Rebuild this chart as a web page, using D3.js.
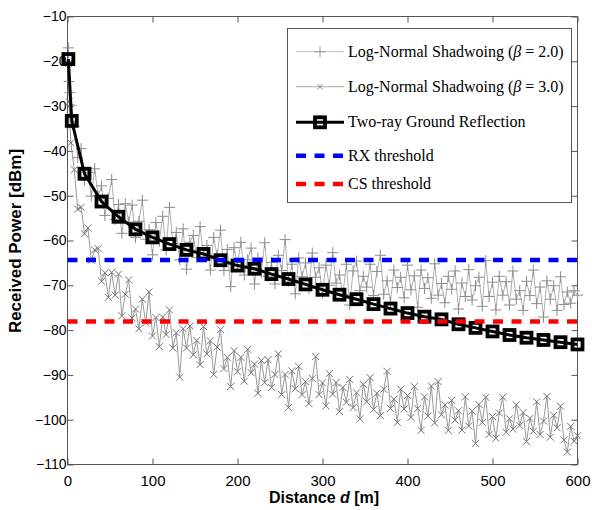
<!DOCTYPE html>
<html>
<head>
<meta charset="utf-8">
<script src="https://cdn.jsdelivr.net/npm/d3@7"></script>
<style>
  body { margin: 0; background: #fff; }
  svg text { font-family: "Liberation Sans", Arial, sans-serif; }
  .tick text { font-size: 14px; fill: #000; }
  .legend text { font-family: "Liberation Serif", "Times New Roman", serif; font-size: 16px; fill: #000; }
</style>
</head>
<body>
<svg id="chart" width="594" height="510"></svg>
<script>
// distances of the shadowing samples [m]
const distance = [1,2,3,4,8,12,16,20,24,28,32,36,40,44,48,52,56,60,64,68,72,76,80,84,88,92,96,100,
  104,108,112,116,120,124,128,132,136,140,144,148,152,156,160,164,168,172,176,180,184,188,192,196,200,
  204,208,212,216,220,224,228,232,236,240,244,248,252,256,260,264,268,272,276,280,284,288,292,296,300,
  304,308,312,316,320,324,328,332,336,340,344,348,352,356,360,364,368,372,376,380,384,388,392,396,400,
  404,408,412,416,420,424,428,432,436,440,444,448,452,456,460,464,468,472,476,480,484,488,492,496,500,
  504,508,512,516,520,524,528,532,536,540,544,548,552,556,560,564,568,572,576,580,584,588,592,596,600];

// Log-Normal Shadowing, beta = 2.0 [dBm]
const shadow2 = [-17.0,-24.5,-27.0,-29.8,-34.5,-41.5,-39.5,-46.5,-44.8,-50.1,
  -44.0,-50.0,-47.8,-54.4,-50.6,-46.4,-55.3,-52.0,-58.4,-51.8,
  -55.9,-52.1,-59.3,-55.7,-51.0,-59.7,-57.6,-63.2,-56.0,-60.2,
  -54.6,-62.1,-52.6,-60.7,-58.2,-64.3,-57.4,-66.4,-60.4,-58.9,
  -63.8,-56.9,-63.6,-61.1,-66.6,-59.3,-63.4,-57.7,-66.7,-62.0,
  -70.3,-61.6,-65.5,-60.4,-67.7,-64.3,-61.7,-69.7,-63.9,-67.2,
  -60.5,-68.0,-64.9,-69.7,-63.3,-66.7,-59.8,-69.1,-65.3,-71.9,
  -63.9,-68.1,-65.0,-70.7,-62.8,-68.2,-66.1,-71.8,-65.5,-70.0,
  -62.7,-69.5,-67.7,-72.1,-65.3,-74.4,-66.8,-64.6,-71.2,-68.0,
  -70.4,-65.3,-72.3,-66.9,-63.3,-72.0,-69.0,-73.8,-66.6,-70.5,
  -68.2,-72.8,-65.5,-71.0,-67.9,-74.9,-66.6,-70.7,-68.3,-72.9,
  -65.2,-72.2,-69.6,-73.9,-68.0,-70.9,-66.8,-75.3,-69.5,-72.5,
  -66.5,-73.3,-70.1,-68.2,-74.7,-64.5,-72.5,-69.3,-75.5,-68.0,
  -72.2,-69.2,-74.4,-66.8,-73.1,-71.2,-75.6,-69.1,-72.3,-66.6,
  -74.1,-70.4,-77.1,-69.0,-73.1,-70.1,-75.6,-68.1,-74.3,-71.5,
  -74.0,-71.2,-72.2];

// Log-Normal Shadowing, beta = 3.0 [dBm]
const shadow3 = [-20.5,-29.0,-34.5,-38.2,-44.2,-53.0,-52.6,-58.5,-57.2,-64.4,
  -62.1,-61.8,-69.1,-67.2,-72.7,-67.1,-72.2,-67.5,-76.8,-72.0,
  -68.8,-77.3,-75.3,-79.7,-73.1,-78.4,-71.5,-81.3,-77.2,-83.7,
  -77.1,-81.0,-75.5,-84.0,-80.6,-90.5,-79.7,-84.0,-79.1,-85.5,
  -82.3,-87.7,-79.2,-85.3,-82.4,-89.9,-83.8,-79.9,-88.6,-86.1,
  -92.6,-84.6,-89.3,-86.1,-91.4,-84.3,-89.5,-87.6,-94.1,-86.8,
  -91.7,-86.6,-92.8,-89.9,-85.3,-94.4,-89.9,-97.3,-89.1,-93.1,
  -88.1,-94.4,-91.5,-96.4,-90.8,-85.9,-94.4,-91.8,-96.9,-89.7,
  -94.3,-91.7,-98.2,-92.8,-96.1,-91.0,-97.3,-94.0,-99.8,-92.1,
  -96.0,-90.6,-97.7,-94.1,-99.1,-93.2,-89.2,-97.5,-95.4,-100.6,
  -93.2,-97.6,-94.6,-99.5,-92.6,-97.5,-102.4,-94.9,-99.2,-92.5,
  -100.7,-91.5,-98.9,-96.7,-102.4,-95.7,-100.1,-98.0,-102.3,-94.9,
  -101.4,-98.1,-105.3,-96.6,-100.6,-95.0,-103.3,-99.3,-104.1,-98.5,
  -95.0,-102.8,-99.8,-102.1,-96.7,-101.3,-98.4,-104.9,-99.7,-102.6,
  -96.0,-103.3,-100.3,-94.8,-103.9,-99.0,-101.8,-97.0,-104.5,-107.2,
  -101.5,-104.8,-103.6];

// Two-ray Ground Reflection
const rayDist = [1,5,20,40,60,80,100,120,140,160,180,200,220,240,260,280,300,
  320,340,360,380,400,420,440,460,480,500,520,540,560,580,600];
const twoRay = [-19.5,-33.3,-45.1,-51.3,-54.7,-57.5,-59.3,-60.8,-62.1,-63.0,-64.4,-65.6,
  -66.3,-67.5,-68.6,-69.8,-71.0,-72.1,-73.1,-74.2,-75.2,-76.2,-77.0,-77.6,-78.7,
  -79.5,-80.3,-81.1,-81.7,-82.2,-82.7,-83.2];

const rxThreshold = -64.37;
const csThreshold = -78.07;

const xTicks = [0,100,200,300,400,500,600];
const yTicks = [-110,-100,-90,-80,-70,-60,-50,-40,-30,-20,-10];

const svg = d3.select('#chart');

const pLeft = 67.5, pRight = 577.5, pTop = 16.5, pBottom = 464.5;
const axisColor = '#555';

const x = d3.scaleLinear().domain([0, 600]).range([pLeft, pRight]);
const y = d3.scaleLinear().domain([-110, -10]).range([pBottom, pTop]);

const fmt = d => d < 0 ? '\u2212' + Math.abs(d) : String(d);

// axes, ticks pointing inward on all four sides
const gx = svg.append('g')
  .attr('transform', `translate(0,${pBottom})`)
  .call(d3.axisBottom(x).tickValues(xTicks).tickFormat(fmt)
    .tickSizeInner(-6).tickSizeOuter(0).tickPadding(11));
gx.selectAll('.tick text').style('font-size', '15px');

const gy = svg.append('g')
  .attr('transform', `translate(${pLeft},0)`)
  .call(d3.axisLeft(y).tickValues(yTicks).tickFormat(fmt)
    .tickSizeInner(-6).tickSizeOuter(0).tickPadding(1));

const gt = svg.append('g')
  .attr('transform', `translate(0,${pTop})`)
  .call(d3.axisTop(x).tickValues(xTicks).tickFormat('').tickSizeInner(-6).tickSizeOuter(0));

const gr = svg.append('g')
  .attr('transform', `translate(${pRight},0)`)
  .call(d3.axisRight(y).tickValues(yTicks).tickFormat('').tickSizeInner(-6).tickSizeOuter(0));

[gx, gy, gt, gr].forEach(g => {
  g.select('.domain').remove();
  g.selectAll('.tick line').attr('stroke', axisColor);
});

svg.append('rect')
  .attr('x', pLeft).attr('y', pTop)
  .attr('width', pRight - pLeft).attr('height', pBottom - pTop)
  .attr('fill', 'none').attr('stroke', axisColor);

// series
const pts2 = distance.map((d, i) => [d, shadow2[i]]);
const pts3 = distance.map((d, i) => [d, shadow3[i]]);
const ptsRay = rayDist.map((d, i) => [d, twoRay[i]]);

const line = d3.line().x(d => x(d[0])).y(d => y(d[1]));

const plusPath = 'M-5.5,0H5.5M0,-5.5V5.5';
const crossPath = 'M-3.5,-3.5L3.5,3.5M-3.5,3.5L3.5,-3.5';

svg.append('path').datum(pts2)
  .attr('d', line).attr('fill', 'none')
  .attr('stroke', '#b0b0b0').attr('stroke-width', 1);

svg.append('g').selectAll('path').data(pts2).join('path')
  .attr('transform', d => `translate(${x(d[0])},${y(d[1])})`)
  .attr('d', plusPath).attr('stroke', '#8c8c8c').attr('stroke-width', 1);

svg.append('path').datum(pts3)
  .attr('d', line).attr('fill', 'none')
  .attr('stroke', '#999').attr('stroke-width', 1);

svg.append('g').selectAll('path').data(pts3).join('path')
  .attr('transform', d => `translate(${x(d[0])},${y(d[1])})`)
  .attr('d', crossPath).attr('stroke', '#737373').attr('stroke-width', 1);

svg.append('path').datum(ptsRay)
  .attr('d', line).attr('fill', 'none')
  .attr('stroke', '#000').attr('stroke-width', 3);

svg.append('g').selectAll('rect').data(ptsRay).join('rect')
  .attr('x', d => x(d[0]) - 5).attr('y', d => y(d[1]) - 5)
  .attr('width', 10).attr('height', 10)
  .attr('fill', 'none').attr('stroke', '#000').attr('stroke-width', 3.8);

// thresholds
svg.append('line')
  .attr('x1', x(0)).attr('x2', x(600))
  .attr('y1', y(rxThreshold)).attr('y2', y(rxThreshold))
  .attr('stroke', '#0000ff').attr('stroke-width', 4.5).attr('stroke-dasharray', '10,8.5');

svg.append('line')
  .attr('x1', x(0)).attr('x2', x(600))
  .attr('y1', y(csThreshold)).attr('y2', y(csThreshold))
  .attr('stroke', '#ff0000').attr('stroke-width', 4.5).attr('stroke-dasharray', '10,8.5');

// legend
const legend = svg.append('g').attr('class', 'legend');
legend.append('rect')
  .attr('x', 287.5).attr('y', 28.5).attr('width', 284).attr('height', 174)
  .attr('fill', '#fff').attr('stroke', axisColor);

const rowY = [51.7, 86.7, 122.3, 155.7, 184];
const lx1 = 296, lx2 = 344, lxm = 320, tx = 348;

// row 1
legend.append('line').attr('x1', lx1).attr('x2', lx2).attr('y1', rowY[0]).attr('y2', rowY[0])
  .attr('stroke', '#bdbdbd');
legend.append('path').attr('transform', `translate(${lxm},${rowY[0]})`)
  .attr('d', plusPath).attr('stroke', '#9a9a9a');
// row 2
legend.append('line').attr('x1', lx1).attr('x2', lx2).attr('y1', rowY[1]).attr('y2', rowY[1])
  .attr('stroke', '#a8a8a8');
legend.append('path').attr('transform', `translate(${lxm},${rowY[1]})`)
  .attr('d', 'M-2.5,-2.5L2.5,2.5M-2.5,2.5L2.5,-2.5').attr('stroke', '#808080');
// row 3
legend.append('line').attr('x1', lx1).attr('x2', lx2).attr('y1', rowY[2]).attr('y2', rowY[2])
  .attr('stroke', '#000').attr('stroke-width', 3);
legend.append('rect').attr('x', lxm - 5).attr('y', rowY[2] - 5)
  .attr('width', 10).attr('height', 10)
  .attr('fill', 'none').attr('stroke', '#000').attr('stroke-width', 3.8);
// rows 4, 5
legend.append('line').attr('x1', lx1).attr('x2', lx2).attr('y1', rowY[3]).attr('y2', rowY[3])
  .attr('stroke', '#0000ff').attr('stroke-width', 4.5).attr('stroke-dasharray', '10,8.5');
legend.append('line').attr('x1', lx1).attr('x2', lx2).attr('y1', rowY[4]).attr('y2', rowY[4])
  .attr('stroke', '#ff0000').attr('stroke-width', 4.5).attr('stroke-dasharray', '10,8.5');

const betas = ['2.0', '3.0'];
betas.forEach((b, i) => {
  const t = legend.append('text').attr('x', tx).attr('y', rowY[i] + 5);
  t.append('tspan').text('Log-Normal Shadwoing (');
  t.append('tspan').attr('font-style', 'italic').text('\u03b2');
  t.append('tspan').text(' = ' + b + ')');
});
legend.append('text').attr('x', tx).attr('y', rowY[2] + 5).text('Two-ray Ground Reflection');
legend.append('text').attr('x', tx).attr('y', rowY[3] + 5).text('RX threshold');
legend.append('text').attr('x', tx).attr('y', rowY[4] + 5).text('CS threshold');

// axis labels
svg.append('text')
  .attr('transform', 'translate(21,241) rotate(-90)')
  .attr('text-anchor', 'middle')
  .attr('font-weight', 'bold').attr('font-size', 17)
  .text('Received Power [dBm]');

const xl = svg.append('text')
  .attr('x', 324).attr('y', 503)
  .attr('text-anchor', 'middle')
  .attr('font-weight', 'bold').attr('font-size', 16);
xl.append('tspan').text('Distance ');
xl.append('tspan').attr('font-style', 'italic').text('d');
xl.append('tspan').text(' [m]');
</script>
</body>
</html>
